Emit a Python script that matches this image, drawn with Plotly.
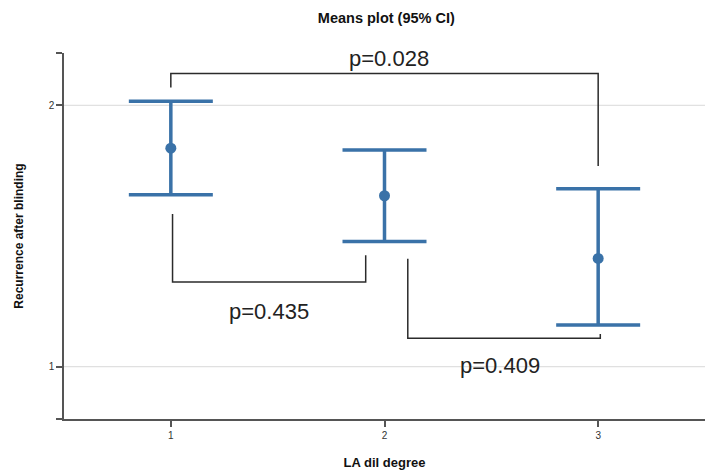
import plotly.graph_objects as go

# Data
groups = [1, 2, 3]
means = [1.836, 1.654, 1.414]
ci_upper = [2.015, 1.829, 1.681]
ci_lower = [1.658, 1.479, 1.160]

# Comparison brackets (x, y in data coordinates)
br_13_x = [1.0, 1.0, 3.0, 3.0]
br_13_y = [2.068, 2.122, 2.122, 1.768]
br_12_x = [1.008, 1.008, 1.912, 1.912]
br_12_y = [1.584, 1.324, 1.324, 1.426]
br_23_x = [2.109, 2.109, 3.01, 3.01]
br_23_y = [1.413, 1.109, 1.109, 1.125]

p_labels = ["p=0.028", "p=0.435", "p=0.409"]
p_x = [2.02, 1.46, 2.54]
p_y = [2.178, 1.213, 1.006]

y_ticks = [0.8, 1, 2, 2.2]
y_ticktext = ["", "1", "2", ""]
x_ticks = [1, 2, 3]
grid_vals = [1, 2]

blue = "#3a72a8"
dark = "#2b2b2b"

fig = go.Figure()

for bx, by in [(br_13_x, br_13_y), (br_12_x, br_12_y), (br_23_x, br_23_y)]:
    fig.add_trace(go.Scatter(x=bx, y=by, mode="lines",
                             line=dict(color=dark, width=1.5),
                             hoverinfo="skip", showlegend=False))

fig.add_trace(go.Scatter(
    x=groups, y=means, mode="markers",
    marker=dict(color=blue, size=11),
    error_y=dict(type="data", symmetric=False,
                 array=[u - m for u, m in zip(ci_upper, means)],
                 arrayminus=[m - l for m, l in zip(means, ci_lower)],
                 color=blue, thickness=3.5, width=42),
    showlegend=False))

for g in grid_vals:
    fig.add_shape(type="line", xref="paper", x0=0, x1=1, yref="y", y0=g, y1=g,
                  line=dict(color="#d9d9d9", width=1), layer="below")

for t, x, y in zip(p_labels, p_x, p_y):
    fig.add_annotation(x=x, y=y, text=t, showarrow=False,
                       font=dict(size=22, color="#222", family="Liberation Sans, Arial, sans-serif"))

fig.update_layout(
    width=705, height=475,
    margin=dict(l=64, r=0, t=53, b=56),
    paper_bgcolor="white", plot_bgcolor="white",
    font=dict(family="Liberation Sans, Arial, sans-serif", color="#222"),
    title=dict(text="<b>Means plot (95% CI)</b>", x=0.548, xanchor="center",
               y=0.962, yanchor="middle", font=dict(size=14.5, color="#111")),
    xaxis=dict(range=[0.5, 3.5], tickvals=x_ticks, showgrid=False, zeroline=False,
               showline=True, linecolor="#555", linewidth=1.5,
               ticks="outside", ticklen=6, tickcolor="#555", tickwidth=1.5,
               tickfont=dict(size=10, color="#333"),
               title=dict(text="<b>LA dil degree</b>", font=dict(size=13, color="#111"),
                          standoff=18)),
    yaxis=dict(range=[0.8, 2.2], tickvals=y_ticks, ticktext=y_ticktext,
               showgrid=False, zeroline=False,
               showline=True, linecolor="#555", linewidth=1.5,
               ticks="outside", ticklen=6, tickcolor="#555", tickwidth=1.5,
               tickfont=dict(size=10, color="#333"),
               title=dict(text="<b>Recurrence after blinding</b>", font=dict(size=12, color="#111"),
                          standoff=22)),
)

fig.write_html("out.html")
